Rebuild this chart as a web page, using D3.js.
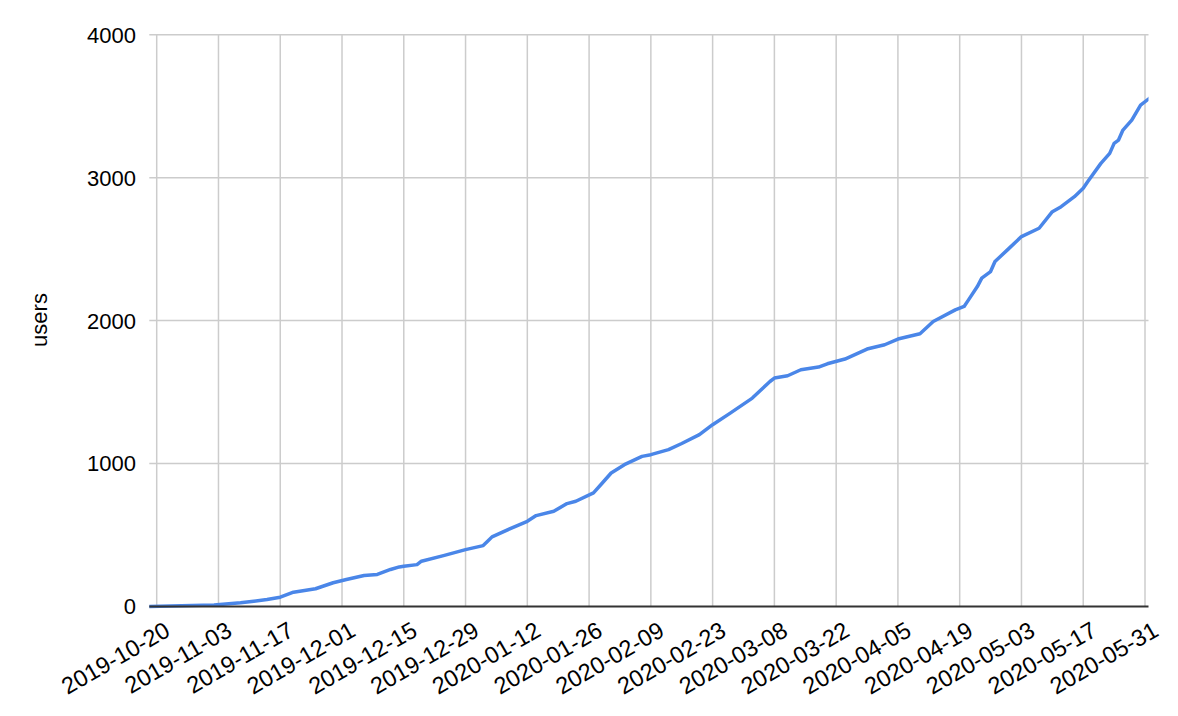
<!DOCTYPE html>
<html>
<head>
<meta charset="utf-8">
<script src="https://cdn.jsdelivr.net/npm/d3@7/dist/d3.min.js"></script>
<style>
  html, body { margin: 0; padding: 0; background: #fff; }
  text { font-family: "Liberation Sans", Arial, Helvetica, sans-serif; fill: #000; }
</style>
</head>
<body>
<svg id="chart" width="1178" height="716"></svg>
<script>
// ---- data ----
const dates = [
  "2019-10-18","2019-11-02","2019-11-08","2019-11-11","2019-11-14","2019-11-17",
  "2019-11-20","2019-11-25","2019-11-29","2019-12-02","2019-12-06","2019-12-09",
  "2019-12-12","2019-12-14","2019-12-15","2019-12-18","2019-12-19","2019-12-24",
  "2019-12-29","2020-01-02","2020-01-03","2020-01-04","2020-01-08","2020-01-12",
  "2020-01-14","2020-01-18","2020-01-21","2020-01-23","2020-01-27","2020-01-29",
  "2020-01-31","2020-02-03","2020-02-07","2020-02-09","2020-02-13","2020-02-16",
  "2020-02-20","2020-02-23","2020-02-27","2020-03-03","2020-03-05","2020-03-07",
  "2020-03-08","2020-03-11","2020-03-14","2020-03-18","2020-03-20","2020-03-24",
  "2020-03-29","2020-04-02","2020-04-05","2020-04-10","2020-04-13","2020-04-18",
  "2020-04-20","2020-04-21","2020-04-23","2020-04-24","2020-04-26","2020-04-27",
  "2020-04-30","2020-05-03","2020-05-07","2020-05-10","2020-05-12","2020-05-15",
  "2020-05-17","2020-05-18","2020-05-21","2020-05-23","2020-05-24","2020-05-25",
  "2020-05-26","2020-05-28","2020-05-30","2020-06-01"
];
const users = [
  0, 10, 26, 37, 49, 65,
  100, 124, 166, 189, 217, 224,
  259, 277, 282, 293, 317, 356,
  398, 426, 456, 487, 543, 596,
  636, 666, 720, 736, 795, 864,
  934, 992, 1050, 1062, 1097, 1140,
  1202, 1272, 1353, 1458, 1516, 1574,
  1598, 1614, 1656, 1675, 1698, 1731,
  1801, 1831, 1871, 1908, 1994, 2075,
  2099, 2145, 2238, 2297, 2343, 2413,
  2500, 2588, 2646, 2762, 2797, 2867,
  2926, 2972, 3100, 3170, 3240, 3263,
  3333, 3403, 3508, 3555
];
const xTickLabels = [
  "2019-10-20","2019-11-03","2019-11-17","2019-12-01","2019-12-15","2019-12-29",
  "2020-01-12","2020-01-26","2020-02-09","2020-02-23","2020-03-08","2020-03-22",
  "2020-04-05","2020-04-19","2020-05-03","2020-05-17","2020-05-31"
];
const yTicks = [0, 1000, 2000, 3000, 4000];
const yTitle = "users";

// ---- layout ----
const parse = d3.utcParse("%Y-%m-%d");
const plotLeft = 149.3, plotRight = 1148.5;
const x = d3.scaleUtc()
  .domain([parse(xTickLabels[0]), parse(xTickLabels[xTickLabels.length - 1])])
  .range([156.7, 1145]);
const y = d3.scaleLinear().domain([0, 4000]).range([606.5, 34.7]);

const svg = d3.select("#chart");
const data = dates.map((d, i) => ({ date: parse(d), value: users[i] }));

// horizontal gridlines
svg.append("g")
  .selectAll("line")
  .data(yTicks.filter(v => v !== 0))
  .join("line")
  .attr("x1", plotLeft).attr("x2", plotRight)
  .attr("y1", d => y(d)).attr("y2", d => y(d))
  .attr("stroke", "#cccccc").attr("stroke-width", 1.5);

// vertical gridlines
svg.append("g")
  .selectAll("line")
  .data(xTickLabels)
  .join("line")
  .attr("x1", d => x(parse(d))).attr("x2", d => x(parse(d)))
  .attr("y1", y(4000)).attr("y2", y(0))
  .attr("stroke", "#cccccc").attr("stroke-width", 1.5);

// y tick labels
svg.append("g")
  .selectAll("text")
  .data(yTicks)
  .join("text")
  .attr("x", 136)
  .attr("y", d => y(d))
  .attr("dy", "0.36em")
  .attr("text-anchor", "end")
  .attr("font-size", 22)
  .text(d => d);

// y title
svg.append("text")
  .attr("transform", "translate(47,320) rotate(-90)")
  .attr("text-anchor", "middle")
  .attr("font-size", 22)
  .text(yTitle);

// clip
svg.append("clipPath").attr("id", "clip")
  .append("rect")
  .attr("x", plotLeft).attr("y", 0)
  .attr("width", plotRight - plotLeft).attr("height", 716);

// line
const line = d3.line()
  .x(d => x(d.date))
  .y(d => y(d.value));
svg.append("path")
  .datum(data)
  .attr("clip-path", "url(#clip)")
  .attr("fill", "none")
  .attr("stroke", "#4a86e8")
  .attr("stroke-width", 3.5)
  .attr("stroke-linejoin", "round")
  .attr("stroke-linecap", "round")
  .attr("d", line);

// baseline
svg.append("line")
  .attr("x1", plotLeft).attr("x2", plotRight)
  .attr("y1", y(0)).attr("y2", y(0))
  .attr("stroke", "#333333").attr("stroke-width", 2);

// x tick labels
svg.append("g")
  .selectAll("text")
  .data(xTickLabels)
  .join("text")
  .attr("transform", d => `translate(${x(parse(d)) + 15},${635}) rotate(-30)`)
  .attr("text-anchor", "end")
  .attr("font-size", 23.5)
  .text(d => d);
</script>
</body>
</html>
